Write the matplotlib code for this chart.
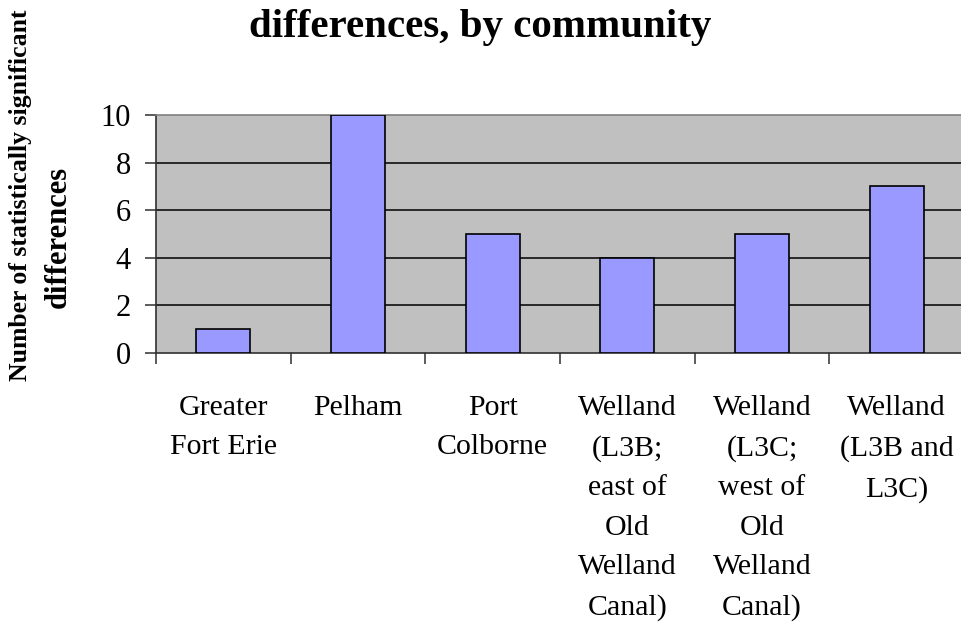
import matplotlib
matplotlib.use("Agg")
import matplotlib.pyplot as plt
import numpy as np

categories = [
    "Greater\nFort Erie",
    "Pelham",
    "Port\nColborne",
    "Welland\n(L3B;\neast of\nOld\nWelland\nCanal)",
    "Welland\n(L3C;\nwest of\nOld\nWelland\nCanal)",
    "Welland\n(L3B and\nL3C)",
]
values = [1, 10, 5, 4, 5, 7]
yticks = [0, 2, 4, 6, 8, 10]

plt.rcParams['font.family'] = ['Liberation Serif', 'DejaVu Serif']

W, H = 961, 629
fig = plt.figure(figsize=(W / 100, H / 100), dpi=100)
left, right, top, bottom = 156, 964, 115, 353
ax = fig.add_axes([left / W, 1 - bottom / H, (right - left) / W, (bottom - top) / H])
ax.set_facecolor('#C0C0C0')

x = np.arange(len(categories))
ax.bar(x, values, width=0.4, color='#9999FF', edgecolor='black', linewidth=1.2, zorder=3)

ax.set_xlim(-0.5, len(categories) - 0.5)
ax.set_ylim(0, 10)
ax.set_yticks(yticks)
ax.set_yticklabels([str(v) for v in yticks], fontsize=22)
for v in yticks[1:-1]:
    ax.axhline(v, color='black', linewidth=1.1, zorder=1)

ax.set_xticks(np.arange(len(categories) + 1) - 0.5)
ax.set_xticklabels([])
ax.set_xticks(x, minor=True)
ax.set_xticklabels(categories, minor=True, fontsize=21.5, linespacing=1.68, va='top')
ax.tick_params(axis='x', which='minor', length=0, pad=30)
ax.tick_params(axis='x', which='major', length=8, width=1.2, color='#404040', direction='out')
ax.tick_params(axis='y', which='major', length=8, width=1.2, color='#404040', direction='out', pad=10)

ax.spines['top'].set_color('#808080')
ax.spines['top'].set_linewidth(1.2)
ax.spines['right'].set_visible(False)
ax.spines['left'].set_color('#303030')
ax.spines['left'].set_linewidth(1.2)
ax.spines['bottom'].set_color('#303030')
ax.spines['bottom'].set_linewidth(1.2)

fig.text(480 / W, 1 - 28 / H, "differences, by community", ha='center', va='center',
         fontsize=29.5, fontweight='bold')
fig.text(21 / W, 1 - 381 / H, "Number of statistically significant", ha='center', va='bottom',
         rotation=90, fontsize=18.5, fontweight='bold')
fig.text(58 / W, 1 - 237 / H, "differences", ha='center', va='center',
         rotation=90, fontsize=22, fontweight='bold')

fig.savefig("out.png", dpi=100)
